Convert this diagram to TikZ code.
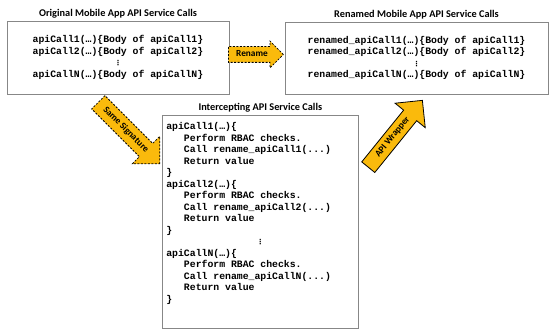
\documentclass[tikz,border=0pt]{standalone}
\usepackage{fontspec}
\setmainfont{Carlito}
\setmonofont{Liberation Mono}
\newfontfamily\dotsfont{DejaVu Sans}
\usetikzlibrary{shapes.arrows,positioning}

\definecolor{arrowgold}{RGB}{250,186,12}
\definecolor{boxline}{RGB}{135,135,135}

\newcommand{\vdotsmark}{{\dotsfont\fontsize{7}{8}\selectfont ⋮}}
\newcommand{\ind}{\phantom{xxx}}

\tikzset{
  codebox/.style={rectangle, draw=boxline, line width=0.7pt, inner sep=0pt,
    font=\ttfamily\bfseries\fontsize{9.8}{11.5}\selectfont, align=center},
  boxtitle/.style={font=\bfseries\fontsize{10.3}{12}\selectfont, inner sep=0pt},
  blockarrow/.style={single arrow, anchor=tail, fill=arrowgold, draw=black,
    line width=0.8pt, font=\bfseries\fontsize{9.3}{10}\selectfont,
    text height=6.3pt, text depth=1.7pt, inner xsep=1pt},
  dashedarrow/.style={blockarrow, dash pattern=on 2pt off 1.5pt}
}

\begin{document}
\begin{tikzpicture}[x=1pt,y=-1pt]
\useasboundingbox (0,0) rectangle (551,331);

% Original calls
\node[codebox, minimum width=222pt, minimum height=73pt] (original) at (118,57.5)
  {apiCall1(…)\{Body of apiCall1\}\\apiCall2(…)\{Body of apiCall2\}\\\vdotsmark\\apiCallN(…)\{Body of apiCallN\}};
\node[boxtitle, above=2.5pt of original] (originaltitle) {Original Mobile App API Service Calls};

% Renamed calls
\node[codebox, minimum width=263pt, minimum height=72pt] (renamed) at (416.5,58)
  {renamed\_apiCall1(…)\{Body of apiCall1\}\\renamed\_apiCall2(…)\{Body of apiCall2\}\\\vdotsmark\\renamed\_apiCallN(…)\{Body of apiCallN\}};
\node[boxtitle, above=2.5pt of renamed] (renamedtitle) {Renamed Mobile App API Service Calls};

% Intercepting calls
\node[codebox, anchor=north west, minimum width=196pt, minimum height=213pt, align=left] (intercept) at (162,115)
  {\parbox[c][198pt][t]{188pt}{\raggedright
    apiCall1(…)\{\\
    \ind Perform RBAC checks.\\
    \ind Call rename\_apiCall1(...)\\
    \ind Return value\\
    \}\\
    apiCall2(…)\{\\
    \ind Perform RBAC checks.\\
    \ind Call rename\_apiCall2(...)\\
    \ind Return value\\
    \}\\
    \makebox[\linewidth]{\vdotsmark}\\
    apiCallN(…)\{\\
    \ind Perform RBAC checks.\\
    \ind Call rename\_apiCallN(...)\\
    \ind Return value\\
    \}}};
\node[boxtitle, above=2.5pt of intercept] (intercepttitle) {Intercepting API Service Calls};

% Block arrows
\node[dashedarrow, minimum height=55pt, inner ysep=3.5pt, single arrow head extend=5.5pt] (rename) at (228,54.5) {Rename};
\node[dashedarrow, rotate=-45, minimum height=87pt, inner ysep=5pt, single arrow head extend=10pt] (samesig) at (98,102) {Same Signature};
\node[blockarrow, rotate=51, minimum height=86pt, inner ysep=4pt, single arrow head extend=11pt] (wrapper) at (368,167.5) {API Wrapper};
\end{tikzpicture}
\end{document}
